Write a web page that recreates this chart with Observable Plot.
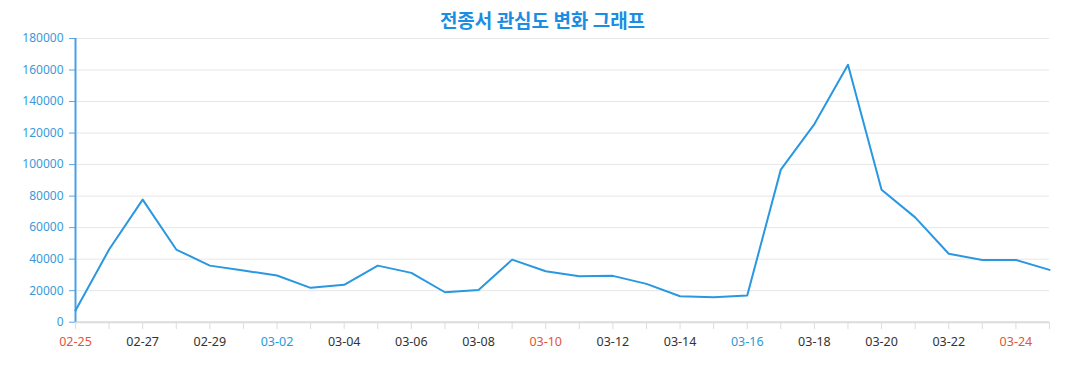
<!DOCTYPE html>
<html>
<head>
<meta charset="utf-8">
<script src="https://cdn.jsdelivr.net/npm/d3@7"></script>
<script src="https://cdn.jsdelivr.net/npm/@observablehq/plot@0.6"></script>
<style>
  html, body { margin: 0; background: #fff; overflow: hidden; }
  #title { height: 30px; line-height: 40px; text-align: center; font-family: "Noto Sans CJK KR", "Noto Sans", sans-serif; font-weight: bold; font-size: 19px; color: #1a8ee3; padding-left: 8px; }
  svg { display: block; }
</style>
</head>
<body>
<div id="title">전종서 관심도 변화 그래프</div>
<div id="chart"></div>
<script>
const dates = ["02-25","02-26","02-27","02-28","02-29","03-01","03-02","03-03","03-04","03-05",
  "03-06","03-07","03-08","03-09","03-10","03-11","03-12","03-13","03-14","03-15",
  "03-16","03-17","03-18","03-19","03-20","03-21","03-22","03-23","03-24","03-25"];
const values = [7400, 46100, 77800, 46100, 35900, 32800, 29600, 21800, 23700, 35900,
  31300, 19000, 20500, 39700, 32300, 29200, 29400, 24300, 16500, 15800,
  16900, 96800, 125700, 163300, 84100, 66500, 43400, 39500, 39500, 33200];
const saturdays = ["03-02","03-09","03-16","03-23"];
const sundays = ["02-25","03-03","03-10","03-17","03-24"];
const yTicks = [0,20000,40000,60000,80000,100000,120000,140000,160000,180000];

const data = dates.map((d, i) => ({index: i, date: d, value: values[i]}));
const idx = dates.map((d, i) => i);
const labelColor = i => sundays.includes(dates[i]) ? "#e0553b" : saturdays.includes(dates[i]) ? "#2a9ad6" : "#333333";

const chart = Plot.plot({
  width: 1077,
  height: 360,
  marginLeft: 75,
  marginRight: 28,
  marginTop: 8,
  marginBottom: 68,
  style: {fontFamily: "'Noto Sans', sans-serif", fontSize: "12px", background: "#fff"},
  x: {type: "linear", domain: [0, dates.length - 1]},
  y: {domain: [0, 180000], range: [291.7, 8]},
  color: {type: "identity"},
  marks: [
    Plot.gridY(yTicks, {stroke: "#e6e6e6", strokeOpacity: 1}),
    Plot.ruleY([0], {stroke: "#dcdcdc", strokeWidth: 2}),
    Plot.axisX({ticks: idx, tickSize: 7, tickPadding: 8, stroke: "#dcdcdc", label: null,
      tickFormat: i => i % 2 === 0 ? dates[i] : "", fill: labelColor, fontSize: 12.5}),
    Plot.axisY({ticks: yTicks, tickSize: 6, tickPadding: 6, stroke: "#5aa8e6", fill: "#3a9ad9",
      label: null, tickFormat: d => String(d)}),
    Plot.ruleX([0], {y1: 0, y2: 180000, stroke: "#4a9fe2", strokeWidth: 2}),
    Plot.line(data, {x: "index", y: "value", stroke: "#2a97e1", strokeWidth: 2})
  ]
});
document.getElementById("chart").appendChild(chart);
</script>
</body>
</html>
